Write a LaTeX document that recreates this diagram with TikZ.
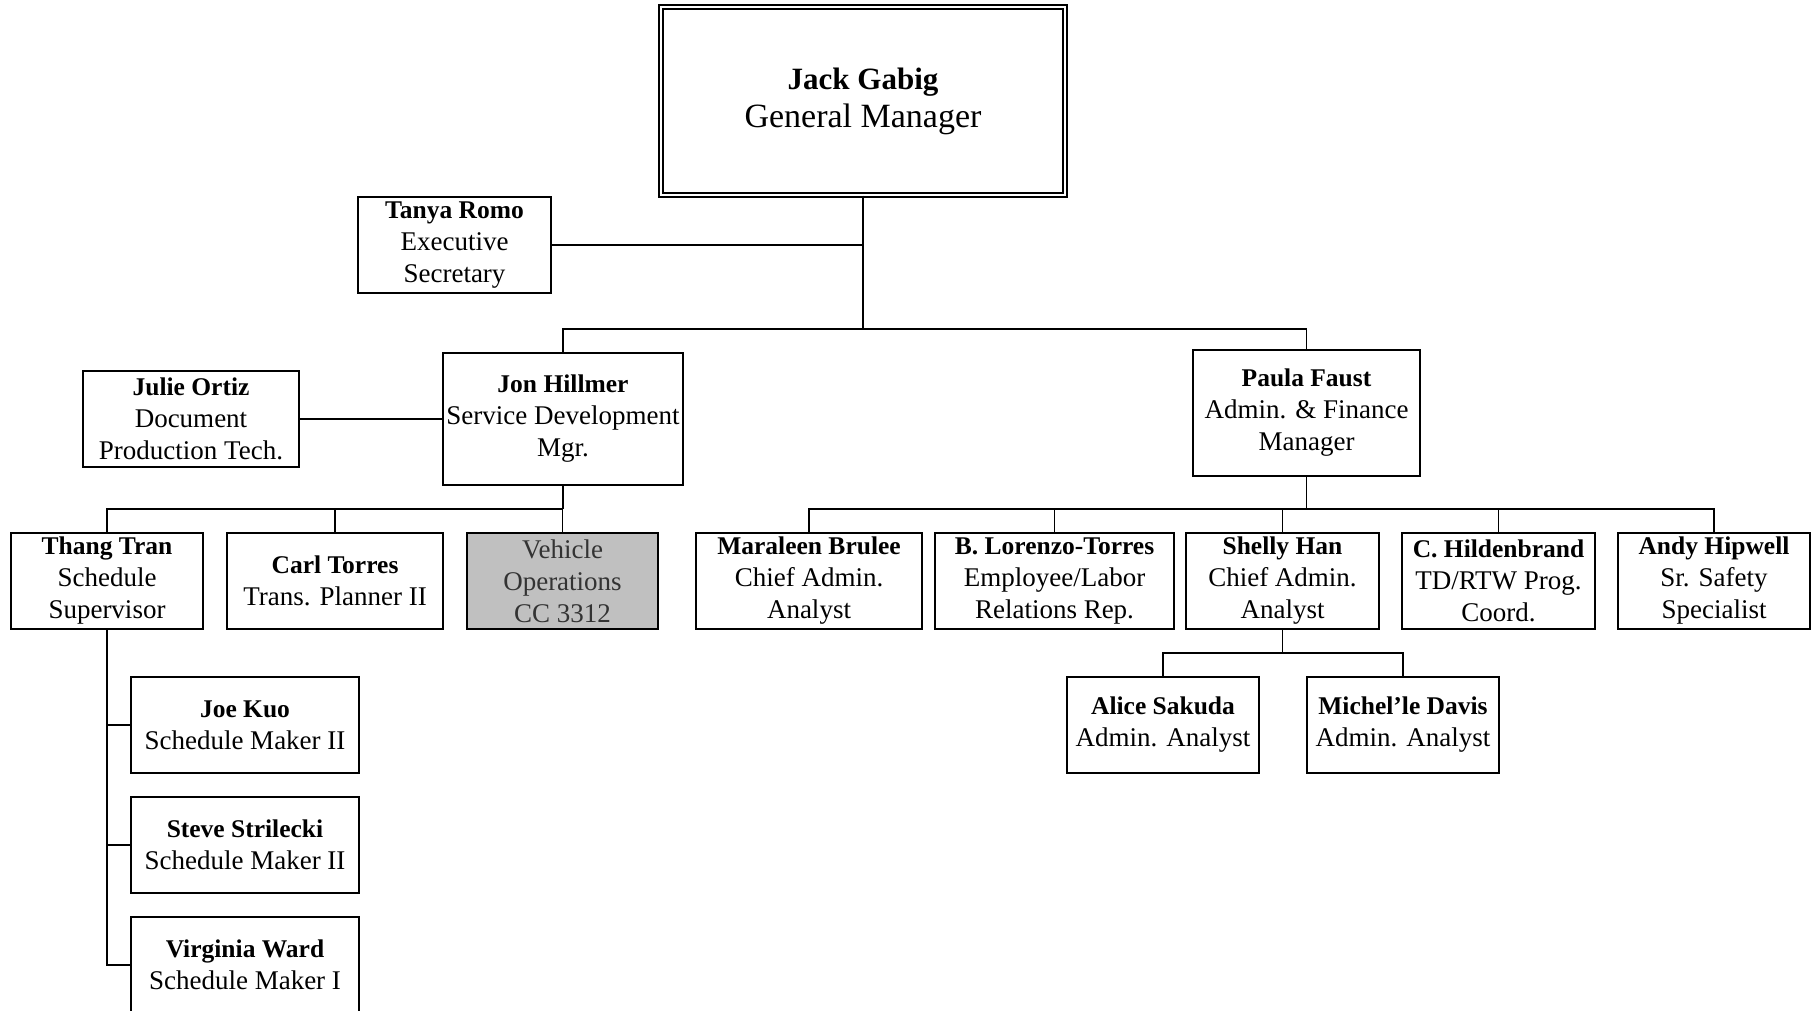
\documentclass[tikz,border=0pt]{standalone}
\usepackage{fontspec}
\setmainfont{Liberation Serif}
\definecolor{vgray}{RGB}{192,192,192}
\newcommand\nm[1]{{\fontsize{25.5}{32}\selectfont\bfseries #1}}
\begin{document}
\begin{tikzpicture}[x=1pt,y=-1pt,
  box/.style={draw, line width=1.5pt, inner sep=0pt, align=center, font=\fontsize{27}{32}\selectfont},
  std/.style={box, minimum height=96pt},
  link/.style={line width=1.5pt}]
\useasboundingbox (0,0) rectangle (1815,1011);
% top
\node[box, double, double distance=2.5pt, line width=1.4pt, minimum width=404pt, minimum height=188pt,
      font=\fontsize{34}{38}\selectfont] (gm) at (863,101) {{\fontsize{31}{38}\selectfont\bfseries Jack Gabig}\\General Manager};
\node[std, minimum width=193pt] (tanya) at (454.5,245) {\nm{Tanya Romo}\\Executive\\Secretary};
\node[box, minimum width=240pt, minimum height=132pt] (jon) at (563,419) {\nm{Jon Hillmer}\\Service Development\\Mgr.};
\node[std, minimum width=216pt] (julie) at (191,419) {\nm{Julie Ortiz}\\Document\\Production Tech.};
\node[box, minimum width=227pt, minimum height=126pt] (paula) at (1306.5,413) {\nm{Paula Faust}\\Admin. \& Finance\\Manager};
% level 3 left
\node[std, minimum width=192pt] (thang) at (107,581) {\nm{Thang Tran}\\Schedule\\Supervisor};
\node[std, minimum width=216pt] (carl) at (335,581) {\nm{Carl Torres}\\Trans. Planner II};
\node[std, minimum width=191pt, fill=vgray, text=black!80] (vehicle) at (562.5,581) {Vehicle\\Operations\\CC 3312};
% level 3 right
\node[std, minimum width=226pt] (maraleen) at (809,581) {\nm{Maraleen Brulee}\\Chief Admin.\\Analyst};
\node[std, minimum width=239pt] (lorenzo) at (1054.5,581) {\nm{B. Lorenzo-Torres}\\Employee/Labor\\Relations Rep.};
\node[std, minimum width=193pt] (shelly) at (1282.5,581) {\nm{Shelly Han}\\Chief Admin.\\Analyst};
\node[std, minimum width=193pt] (hilden) at (1498.5,581) {\nm{C. Hildenbrand}\\TD/RTW Prog.\\Coord.};
\node[std, minimum width=192pt] (andy) at (1714,581) {\nm{Andy Hipwell}\\Sr. Safety\\Specialist};
% level 4
\node[std, minimum width=192pt] (alice) at (1163,725) {\nm{Alice Sakuda}\\Admin. Analyst};
\node[std, minimum width=192pt] (michelle) at (1403,725) {\nm{Michel’le Davis}\\Admin. Analyst};
\node[std, minimum width=228pt] (joe) at (245,725) {\nm{Joe Kuo}\\Schedule Maker II};
\node[std, minimum width=228pt] (steve) at (245,845) {\nm{Steve Strilecki}\\Schedule Maker II};
\node[std, minimum width=228pt] (virginia) at (245,965) {\nm{Virginia Ward}\\Schedule Maker I};
% bus levels
\coordinate (busA) at (0,329);
\coordinate (busB) at (0,509);
\coordinate (busC) at (0,653);
% connectors
\draw[link] (gm.south) -- (gm.south |- busA);
\draw[link] (tanya.east) -- (tanya.east -| gm.south);
\draw[link] (jon.north) -- (jon.north |- busA) -| (paula.north);
\draw[link] (julie.east) -- (jon.west);
\draw[link] (jon.south) -- (jon.south |- busB);
\draw[link] (thang.north) -- (thang.north |- busB) -| (vehicle.north);
\draw[link] (carl.north) -- (carl.north |- busB);
\draw[link] (paula.south) -- (paula.south |- busB);
\draw[link] (maraleen.north) -- (maraleen.north |- busB) -| (andy.north);
\draw[link] (lorenzo.north) -- (lorenzo.north |- busB);
\draw[link] (shelly.north) -- (shelly.north |- busB);
\draw[link] (hilden.north) -- (hilden.north |- busB);
\draw[link] (shelly.south) -- (shelly.south |- busC);
\draw[link] (alice.north) -- (alice.north |- busC) -| (michelle.north);
\draw[link] (thang.south) |- (virginia.west);
\draw[link] (joe.west) -- (joe.west -| thang.south);
\draw[link] (steve.west) -- (steve.west -| thang.south);
\end{tikzpicture}
\end{document}
